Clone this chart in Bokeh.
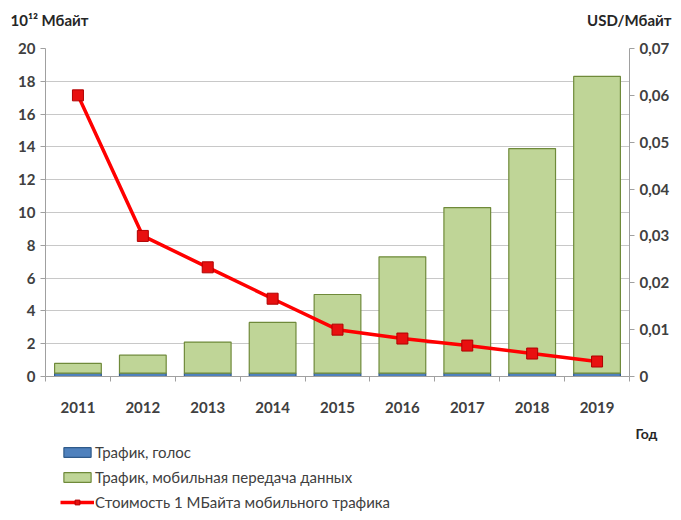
from bokeh.plotting import figure
from bokeh.layouts import column
from bokeh.models import (Range1d, LinearAxis, FixedTicker, CustomJSTickFormatter,
                          Label, Legend, LegendItem, ColumnDataSource)
from bokeh.embed import file_html
from bokeh.resources import INLINE

years = ["2011", "2012", "2013", "2014", "2015", "2016", "2017", "2018", "2019"]
voice = [0.2, 0.2, 0.2, 0.2, 0.2, 0.2, 0.2, 0.2, 0.2]
data = [0.6, 1.1, 1.9, 3.1, 4.8, 7.1, 10.1, 13.7, 18.1]
cost = [0.060, 0.030, 0.0233, 0.0166, 0.0100, 0.0081, 0.0066, 0.0049, 0.0032]
left_ticks = [0, 2, 4, 6, 8, 10, 12, 14, 16, 18, 20]
right_ticks = [0, 0.01, 0.02, 0.03, 0.04, 0.05, 0.06, 0.07]

xs = list(range(1, len(years) + 1))
src = ColumnDataSource(dict(x=xs, voice=voice, data=data, cost=cost))

FONT = "Lato"
TXT = "#404040"
W = 672

VOICE_FILL, VOICE_LINE = "#4f81bd", "#2f5a8a"
DATA_FILL, DATA_LINE = "#bfd597", "#6f8a3a"
RED_LINE, RED_FILL, RED_EDGE = "#ff0000", "#e81010", "#b00000"


def strip(height):
    f = figure(width=W, height=height, x_range=Range1d(0, W), y_range=Range1d(0, height),
               output_backend="svg", toolbar_location=None,
               x_axis_location=None, y_axis_location=None,
               min_border=0, min_border_left=0, min_border_right=0,
               min_border_top=0, min_border_bottom=0, frame_align=False)
    f.grid.visible = False
    f.outline_line_color = None
    return f


def lab(f, x, y, t, align="left", bold=True, size="15px"):
    f.add_layout(Label(x=x, y=y, x_units="screen", y_units="screen", text=t,
                       text_align=align, text_baseline="middle", text_font=FONT,
                       text_font_style="bold" if bold else "normal",
                       text_font_size=size, text_color="#262626"))


# ---------- header strip ----------
top = strip(40)
lab(top, 10, 21, "10¹² Мбайт")
lab(top, 671, 21, "USD/Мбайт", align="right")

# ---------- main chart ----------
p = figure(width=W, height=380, x_range=Range1d(0.5, len(years) + 0.5),
           y_range=Range1d(0, 20), output_backend="svg", toolbar_location=None,
           min_border_left=45, min_border_right=41, min_border_top=8,
           min_border_bottom=44, frame_align=False)
p.extra_y_ranges = {"cost": Range1d(0, 0.07)}
p.outline_line_color = None

p.xgrid.grid_line_color = None
p.ygrid.grid_line_color = "#c8c8c8"
p.ygrid.grid_line_width = 1.2

rs = p.vbar_stack(["voice", "data"], x="x", width=0.72, source=src,
                  fill_color=[VOICE_FILL, DATA_FILL],
                  line_color=[VOICE_LINE, DATA_LINE], line_width=1.2)

p.line("x", "cost", source=src, y_range_name="cost",
       line_color=RED_LINE, line_width=3.5)
p.scatter("x", "cost", source=src, y_range_name="cost", marker="square",
          size=11, fill_color=RED_FILL, line_color=RED_EDGE, line_width=1)

xa = p.xaxis[0]
xa.ticker = FixedTicker(ticks=xs, minor_ticks=[x - 0.5 for x in xs] + [xs[-1] + 0.5])
xa.major_label_overrides = {x: y for x, y in zip(xs, years)}
xa.major_tick_out = 0
xa.major_tick_in = 0
xa.minor_tick_out = 5
xa.minor_tick_in = 0
xa.minor_tick_line_color = "#a0a0a0"
xa.axis_line_color = "#a0a0a0"
xa.major_label_standoff = 20

ya = p.yaxis[0]
ya.ticker = FixedTicker(ticks=left_ticks)

ra = LinearAxis(y_range_name="cost", ticker=FixedTicker(ticks=right_ticks),
                formatter=CustomJSTickFormatter(
                    code="return tick == 0 ? '0' : tick.toFixed(2).replace('.', ',');"))
p.add_layout(ra, "right")

for ax in (ya, ra):
    ax.major_tick_out = 5
    ax.major_tick_in = 0
    ax.minor_tick_line_color = None
    ax.axis_line_color = "#a0a0a0"
    ax.major_tick_line_color = "#a0a0a0"
    ax.major_label_standoff = 5

for ax in (xa, ya, ra):
    ax.major_label_text_font = FONT
    ax.major_label_text_font_style = "bold"
    ax.major_label_text_font_size = "15px"
    ax.major_label_text_color = TXT

# ---------- bottom strip: axis title + legend ----------
bot = strip(91)
lab(bot, 646, 78, "Год", align="center", size="14px")

# legend swatches (no visible marks: NaN placeholder so the legend glyph is drawn)
nan = float("nan")
sw_src = ColumnDataSource(dict(x=[nan], y=[nan]))
sw_voice = bot.vbar(x="x", top="y", width=1, source=sw_src,
                    fill_color=VOICE_FILL, line_color=VOICE_LINE, line_width=1.2)
sw_data = bot.vbar(x="x", top="y", width=1, source=sw_src,
                   fill_color=DATA_FILL, line_color=DATA_LINE, line_width=1.2)
sw_line = bot.line(x="x", y="y", source=sw_src, line_color=RED_LINE, line_width=3.5)
sw_pts = bot.scatter(x="x", y="y", source=sw_src, marker="square", size=11,
                     fill_color=RED_FILL, line_color=RED_EDGE, line_width=1)

legend = Legend(items=[
    LegendItem(label="Трафик, голос", renderers=[sw_voice]),
    LegendItem(label="Трафик, мобильная передача данных", renderers=[sw_data]),
    LegendItem(label="Стоимость 1 МБайта мобильного трафика", renderers=[sw_line, sw_pts]),
], location=(60, 0))
legend.glyph_width = 34
legend.glyph_height = 12
legend.label_height = 12
legend.spacing = 7
legend.padding = 0
legend.margin = 0
legend.label_standoff = 1
legend.border_line_color = None
legend.background_fill_alpha = 0
legend.label_text_font = FONT
legend.label_text_font_size = "15px"
legend.label_text_color = TXT
bot.add_layout(legend, "center")

layout = column(top, p, bot, spacing=0)
open("out.html", "w").write(file_html(layout, INLINE))
